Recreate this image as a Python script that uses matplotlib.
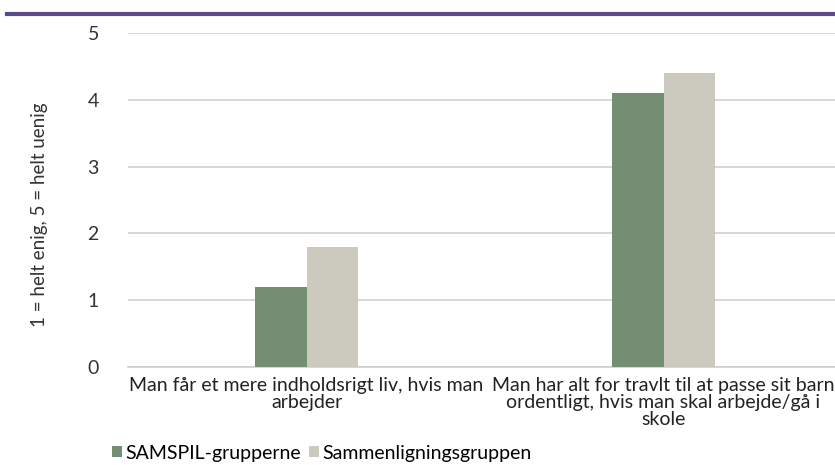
import matplotlib
matplotlib.use("Agg")
import matplotlib.pyplot as plt
from matplotlib.lines import Line2D
import numpy as np

categories = ["Man får et mere indholdsrigt liv, hvis man\narbejder",
              "Man har alt for travlt til at passe sit barn\nordentligt, hvis man skal arbejde/gå i\nskole"]
series_names = ["SAMSPIL-grupperne", "Sammenligningsgruppen"]
samspil = [1.2, 4.1]
sammenligning = [1.8, 4.4]
yticks = [0, 1, 2, 3, 4, 5]
ylabel = "1 = helt enig, 5 = helt uenig"

green = "#738E73"
beige = "#CCC9BE"
purple = "#5B4A8B"

plt.rcParams['font.family'] = ['Lato', 'DejaVu Sans']

W, H = 835, 465
fig = plt.figure(figsize=(W/100, H/100), dpi=100)

# purple rule at top
fig.add_artist(Line2D([7/W, 1], [1-14/H, 1-14/H], color=purple, lw=3, transform=fig.transFigure))

left, right = 128, 842
top, bottom = 33, 367
ax = fig.add_axes([left/W, 1-bottom/H, (right-left)/W, (bottom-top)/H])
x = np.arange(len(categories))
bw = 0.143
ax.bar(x - bw/2, samspil, bw, color=green, label=series_names[0], zorder=3)
ax.bar(x + bw/2, sammenligning, bw, color=beige, label=series_names[1], zorder=3)
ax.set_xlim(-0.5, 1.5)
ax.set_ylim(0, 5)
ax.set_yticks(yticks)
ax.set_yticklabels([str(t) for t in yticks], fontsize=14, color="#333333")
ax.yaxis.grid(True, color="#D0D0D0", lw=1.2, zorder=0)
ax.tick_params(axis='y', length=0, pad=21)
ax.tick_params(axis='x', length=0, pad=7)
ax.set_xticks(x)
ax.set_xticklabels(categories, fontsize=14, color="#222222", linespacing=1.0)
for s in ["top", "right", "left"]:
    ax.spines[s].set_visible(False)
ax.spines["bottom"].set_color("#D0D0D0")
ax.spines["bottom"].set_linewidth(1.2)

fig.text(40/W, 1-215/H, ylabel, rotation=90, ha='center', va='center',
         fontsize=13.5, color="#333333")

handles, labels = ax.get_legend_handles_labels()
leg = fig.legend(handles, labels, loc='center left', bbox_to_anchor=(94/W, 1-453/H),
                 ncol=2, frameon=False, fontsize=14, handlelength=0.55, handleheight=0.55,
                 handletextpad=0.15, columnspacing=0.4)

fig.savefig("out.png", dpi=100)
